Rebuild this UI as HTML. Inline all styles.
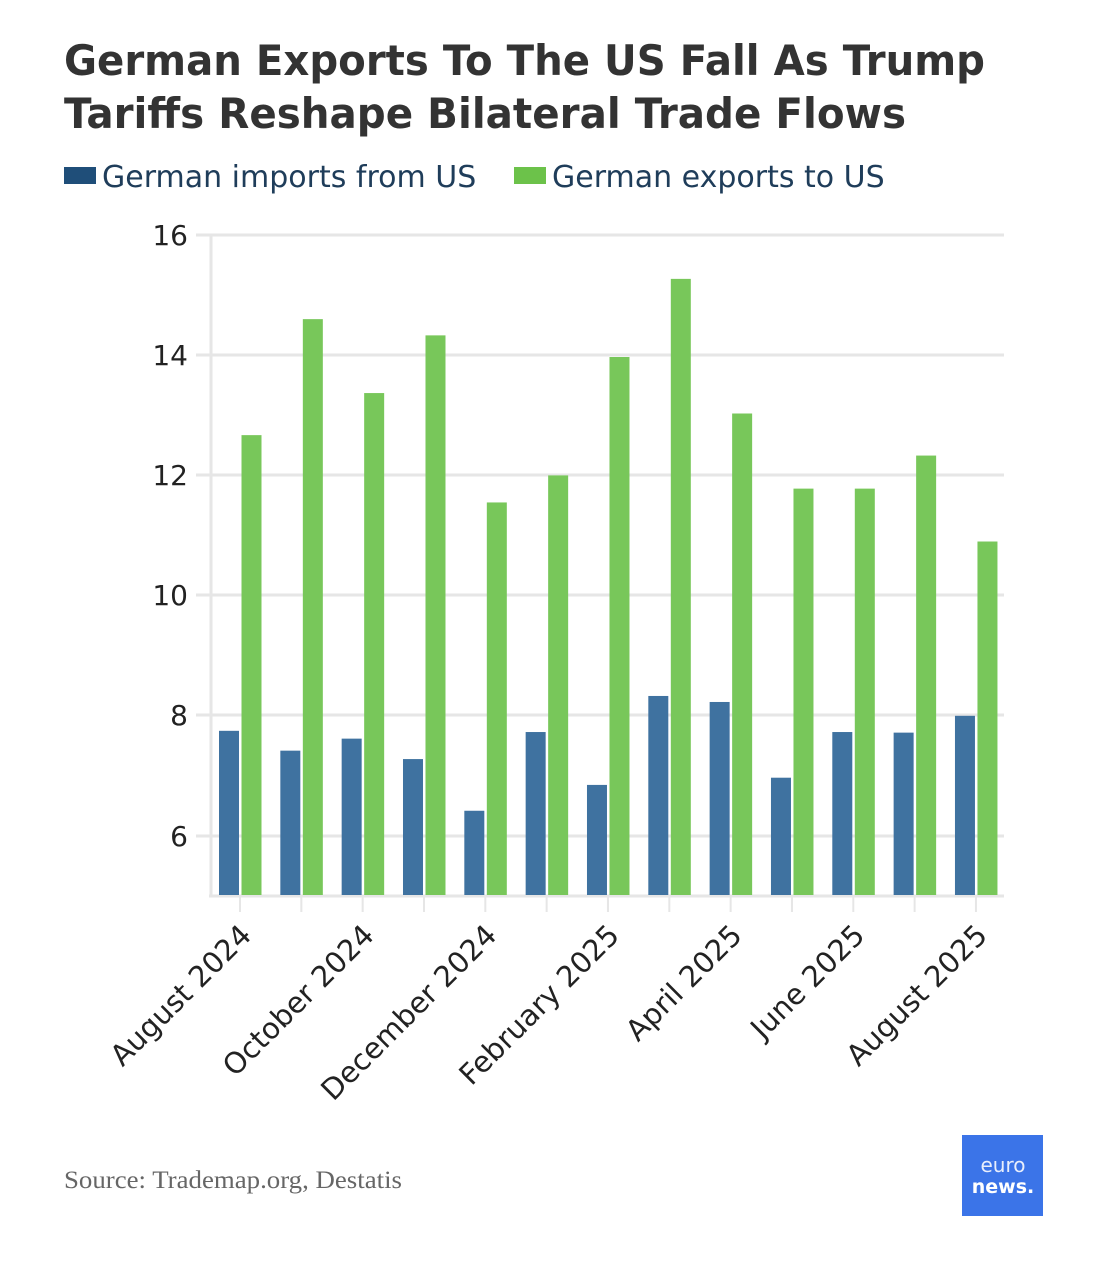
<!DOCTYPE html>
<html><head><meta charset="utf-8"><style>
body{margin:0;background:#fff;width:1114px;height:1280px;overflow:hidden;font-family:"DejaVu Sans","Liberation Sans",sans-serif}
</style></head><body>
<svg width="1114" height="1280" xmlns="http://www.w3.org/2000/svg">
<text x="64" y="75" font-family="DejaVu Sans" font-weight="bold" font-size="42" fill="#333" textLength="921" lengthAdjust="spacingAndGlyphs">German Exports To The US Fall As Trump</text>
<text x="64" y="128" font-family="DejaVu Sans" font-weight="bold" font-size="42" fill="#333" textLength="842" lengthAdjust="spacingAndGlyphs">Tariffs Reshape Bilateral Trade Flows</text>
<rect x="64" y="167" width="32" height="17" fill="#1f4e79"/>
<text x="102" y="187" font-family="DejaVu Sans" font-size="30" fill="#1f3d5a">German imports from US</text>
<rect x="514" y="167" width="32" height="17" fill="#6cc24a"/>
<text x="552" y="187" font-family="DejaVu Sans" font-size="30" fill="#1f3d5a">German exports to US</text>
<g stroke="#e6e6e6" stroke-width="3">
<line x1="196" x2="1004" y1="235" y2="235"/><line x1="196" x2="1004" y1="355" y2="355"/>
<line x1="196" x2="1004" y1="475" y2="475"/><line x1="196" x2="1004" y1="595" y2="595"/>
<line x1="196" x2="1004" y1="715" y2="715"/><line x1="196" x2="1004" y1="836" y2="836"/>
<line x1="211" x2="211" y1="235" y2="897"/>
<line x1="209" x2="1004" y1="896" y2="896"/>
</g>
<g font-family="DejaVu Sans" font-size="28" fill="#222" text-anchor="end">
<text x="188" y="245">16</text><text x="188" y="365">14</text><text x="188" y="485">12</text>
<text x="188" y="605">10</text><text x="188" y="725">8</text><text x="188" y="846">6</text>
</g>
<g id="bars"></g>
<g id="ticks" stroke="#e6e6e6" stroke-width="2"></g>
<g id="labels" font-family="DejaVu Sans" font-size="29" fill="#222" text-anchor="end"></g>
<text x="64" y="1188" font-family="Liberation Serif" font-size="25" fill="#666" textLength="338" lengthAdjust="spacingAndGlyphs">Source: Trademap.org, Destatis</text>
<rect x="962" y="1135" width="81" height="81" fill="#3b74e8"/>
<text x="1003" y="1172" text-anchor="middle" font-family="DejaVu Sans" font-size="20" fill="#e8eefc">euro</text>
<text x="1003" y="1193" text-anchor="middle" font-family="DejaVu Sans" font-weight="bold" font-size="19" fill="#fff">news.</text>
</svg>
<script>
var b=[7.75,7.42,7.62,7.28,6.42,7.73,6.85,8.33,8.23,6.97,7.73,7.72,8.0];
var g=[12.67,14.6,13.37,14.33,11.55,12.0,13.97,15.27,13.03,11.78,11.78,12.33,10.9];
var ns="http://www.w3.org/2000/svg",bars=document.getElementById('bars'),tk=document.getElementById('ticks'),lb=document.getElementById('labels');
function y(v){return 235+(16-v)*60.1}
function el(p,t,a){var e=document.createElementNS(ns,t);for(var k in a)e.setAttribute(k,a[k]);p.appendChild(e);return e}
for(var i=0;i<13;i++){var x=219+i*61.33;
el(bars,'rect',{x:x,y:y(b[i]),width:20,height:895-y(b[i]),fill:'#3f72a0'});
el(bars,'rect',{x:x+22.5,y:y(g[i]),width:20,height:895-y(g[i]),fill:'#78c75a'});
el(tk,'line',{x1:x+21,x2:x+21,y1:897,y2:912});}
var L=["August 2024","October 2024","December 2024","February 2025","April 2025","June 2025","August 2025"];
for(var j=0;j<7;j++){var tx=219+21+j*2*61.33+13;var t=el(lb,'text',{x:tx,y:937,transform:'rotate(-45 '+tx+' 937)'});t.textContent=L[j];}
</script>
</body></html>
